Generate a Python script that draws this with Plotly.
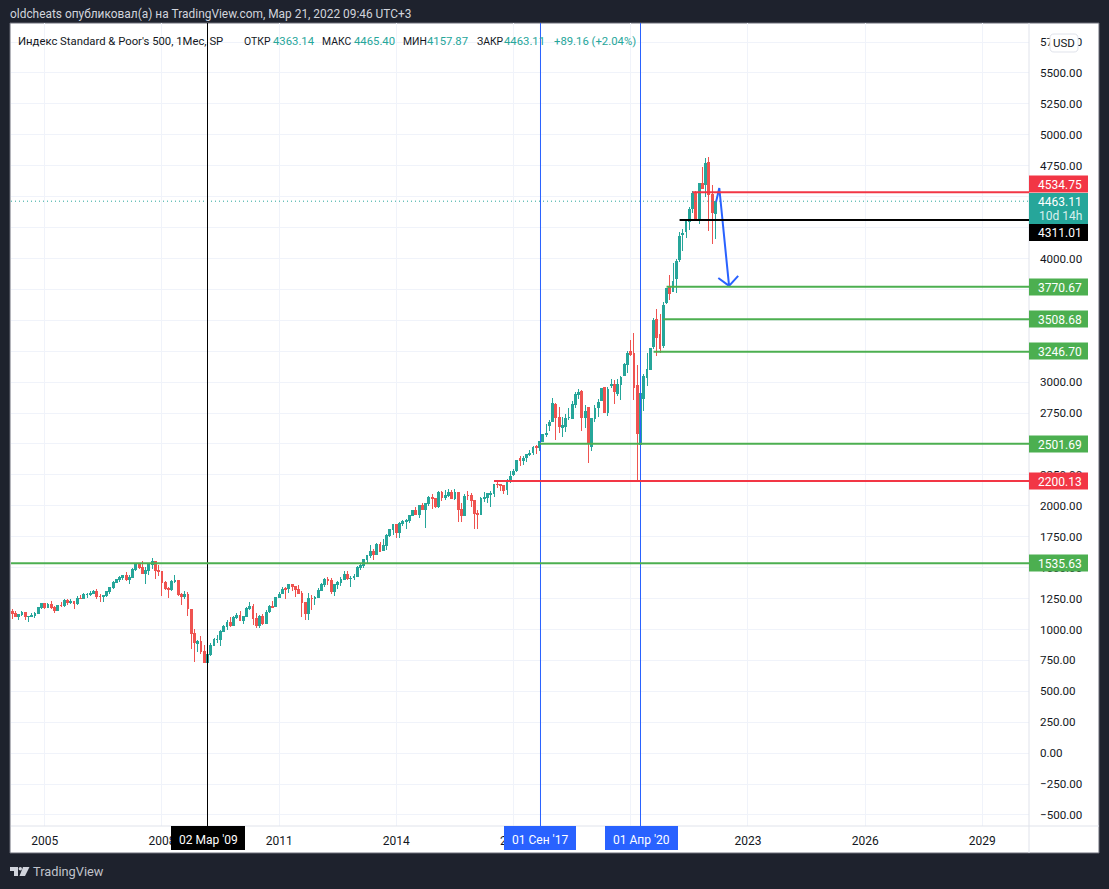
import plotly.graph_objects as go

# Monthly bars, March 2004 to March 2022
opens = [
 1145,1126,1107,1121,1141,1102,1104,1115,1130,1174,
 1212,1181,1204,1181,1157,1192,1191,1234,1220,1229,1207,1249,
 1248,1280,1281,1295,1311,1270,1270,1277,1304,1336,1378,1401,
 1418,1438,1407,1421,1482,1531,1503,1455,1474,1527,1549,1481,
 1468,1379,1331,1323,1386,1400,1280,1267,1283,1164,969,889,
 903,826,730,798,873,919,919,987,1021,1057,1036,1096,
 1117,1074,1106,1172,1188,1088,1031,1107,1049,1144,1185,1187,
 1258,1290,1328,1330,1365,1345,1322,1292,1220,1132,1247,1247,
 1258,1312,1366,1408,1398,1309,1362,1379,1407,1441,1414,1417,
 1426,1498,1515,1569,1598,1631,1609,1686,1635,1682,1758,1806,
 1848,1782,1859,1873,1885,1924,1961,1930,2004,1972,2019,2065,
 2059,1995,2105,2064,2087,2105,2060,2104,1970,1919,2081,2083,
 2039,1937,1932,2057,2068,2094,2100,2174,2170,2165,2129,2201,
 2251,2285,2381,2364,2388,2416,2431,2478,2474,2521,2580,2646,
 2683,2816,2715,2633,2643,2718,2704,2821,2897,2926,2717,2791,
 2476,2703,2798,2848,2953,2751,2971,2980,2909,2983,3050,3143,
 3244,3235,2974,2498,2869,3038,3105,3288,3507,3385,3296,3645,
 3764,3731,3842,3992,4191,4217,4300,4406,4529,4317,4610,4602,
 4778,4519,4363.14,
]
highs = [
 1163,1150,1127,1146,1141,1110,1132,1142,1182,1217,
 1218,1212,1229,1192,1199,1220,1246,1245,1243,1233,1271,1276,
 1295,1297,1310,1318,1326,1284,1281,1306,1340,1389,1407,1431,
 1441,1461,1438,1499,1535,1540,1556,1504,1538,1576,1545,1524,
 1471,1396,1344,1404,1440,1404,1293,1314,1304,1167,1007,918,
 944,875,832,888,930,956,997,1039,1080,1102,1113,1130,
 1150,1113,1181,1220,1205,1131,1120,1129,1158,1196,1227,1263,
 1303,1344,1345,1370,1371,1346,1357,1308,1220,1293,1278,1270,
 1333,1377,1420,1423,1416,1364,1392,1426,1475,1471,1434,1448,
 1510,1531,1570,1598,1687,1654,1698,1710,1730,1776,1814,1850,
 1851,1868,1884,1897,1925,1968,1991,2006,2019,2019,2076,2094,
 2064,2120,2118,2126,2135,2130,2133,2113,2021,2094,2117,2105,
 2038,1963,2073,2111,2103,2121,2177,2194,2179,2169,2215,2278,
 2301,2371,2401,2399,2418,2454,2484,2491,2520,2582,2658,2695,
 2872,2835,2801,2718,2742,2791,2848,2917,2941,2940,2816,2800,
 2708,2814,2861,2950,2955,2964,3028,3014,3022,3050,3154,3248,
 3338,3394,3137,2955,3068,3234,3280,3515,3588,3550,3646,3760,
 3870,3960,3995,4218,4239,4302,4415,4546,4546,4608,4743,4809,
 4819,4595,4465.40,
]
lows = [
 1087,1107,1076,1113,1079,1060,1099,1091,1127,1163,
 1164,1180,1163,1137,1146,1180,1183,1201,1205,1168,1202,1243,
 1245,1253,1268,1290,1245,1220,1224,1262,1290,1327,1375,1385,
 1403,1389,1364,1416,1476,1490,1448,1370,1439,1489,1406,1435,
 1270,1317,1256,1312,1373,1272,1200,1247,1106,840,741,815,
 805,734,666,783,866,888,869,978,993,1020,1029,1086,
 1071,1044,1101,1157,1040,1011,1010,1040,1041,1132,1173,1186,
 1262,1285,1249,1295,1312,1259,1283,1102,1075,1075,1158,1202,
 1259,1312,1341,1357,1291,1267,1325,1354,1397,1403,1343,1398,
 1426,1485,1501,1537,1582,1560,1605,1627,1633,1646,1746,1767,
 1738,1738,1834,1814,1862,1915,1930,1905,1965,1821,2001,1973,
 1981,1981,2040,2049,2068,2056,2044,1868,1872,1919,2047,1994,
 1812,1810,1932,2034,2026,1992,2075,2147,2120,2097,2084,2188,
 2245,2272,2322,2329,2353,2405,2408,2417,2447,2520,2558,2605,
 2682,2532,2586,2553,2594,2691,2699,2795,2864,2603,2631,2347,
 2444,2681,2722,2849,2750,2729,2952,2822,2892,2855,3050,3070,
 3214,2855,2191,2447,2767,2966,3116,3268,3210,3234,3280,3634,
 3663,3725,3724,3974,4057,4165,4234,4368,4306,4279,4560,4495,
 4223,4115,4157.87,
]
closes = [
 1126,1107,1121,1141,1102,1104,1115,1130,1174,1212,
 1181,1204,1181,1157,1192,1191,1234,1220,1229,1207,1249,1248,
 1280,1281,1295,1311,1270,1270,1277,1304,1336,1378,1401,1418,
 1438,1407,1421,1482,1531,1503,1455,1474,1527,1549,1481,1468,
 1379,1331,1323,1386,1400,1280,1267,1283,1166,969,896,903,
 826,735,798,873,919,919,987,1021,1057,1036,1096,1115,
 1074,1104,1169,1187,1089,1031,1102,1049,1141,1183,1181,1258,
 1286,1327,1326,1364,1345,1321,1292,1219,1131,1253,1247,1258,
 1312,1366,1408,1398,1310,1362,1379,1407,1441,1412,1416,1426,
 1498,1515,1569,1598,1631,1606,1686,1633,1682,1757,1806,1848,
 1783,1859,1872,1884,1924,1960,1931,2003,1972,2018,2068,2059,
 1995,2105,2068,2086,2107,2063,2104,1972,1920,2079,2080,2044,
 1940,1932,2060,2065,2097,2099,2174,2171,2168,2126,2199,2239,
 2279,2364,2363,2384,2412,2423,2470,2472,2519,2575,2585,2674,
 2824,2714,2641,2648,2705,2718,2816,2902,2914,2712,2760,2507,
 2704,2784,2834,2946,2751,2942,2980,2926,2977,3038,3141,3231,
 3226,2954,2585,2912,3044,3100,3271,3500,3363,3270,3622,3756,
 3714,3811,3973,4181,4204,4298,4395,4523,4308,4605,4567,4766,
 4516,4374,4463.11,
]

x_ticks = [10, 46, 82, 118, 154, 190, 226, 262, 298]
x_labels = ["2005", "2008", "2011", "2014", "2017", "2020", "2023", "2026", "2029"]
y_ticks = [-500, -250, 0, 250, 500, 750, 1000, 1250, 1500, 1750, 2000, 2250, 2500, 2750, 3000,
           3250, 3500, 3750, 4000, 4250, 4500, 4750, 5000, 5250, 5500, 5750]
y_labels = ["\u2212500.00", "\u2212250.00", "0.00", "250.00", "500.00", "750.00", "1000.00", "1250.00",
            "1500.00", "1750.00", "2000.00", "2250.00", "2500.00", "2750.00", "3000.00", "3250.00",
            "3500.00", "3750.00", "4000.00", "4250.00", "4500.00", "4750.00", "5000.00", "5250.00",
            "5500.00", "5750.00"]

level_values = [4534.75, 4311.01, 3770.67, 3508.68, 3246.70, 2501.69, 2200.13, 1535.63]
level_starts = [209, 205, 201, 200, 197, 162, 148, -1]
level_colors = ["#f23645", "#000000", "#4caf50", "#4caf50", "#4caf50", "#4caf50", "#f23645", "#4caf50"]

vline_positions = [60, 162.28, 193]
vline_colors = ["#000000", "#2962ff", "#2962ff"]
vline_labels = ["02 Мар '09", "01 Сен '17", "01 Апр '20"]

arrow_x = [216.2, 217.2, 220.2, 216.9, 220.2, 223.0]
arrow_y = [4457, 4570, 3778, 3842, 3778, 3859]

last_close = 4463.11

UP = "#26a69a"
DOWN = "#ef5350"
DARK = "#1e222d"
TXT = "#131722"
GRID = "#f0f3fa"
FONT = "Roboto"

PX_L, PX_R, PX_T, PX_B = 11, 1029, 23, 826
X_RANGE = [-0.358, 312.33]
Y_RANGE = [-589, 5904]


def xp(px):
    return (px - PX_L) / (PX_R - PX_L)


def yp(py):
    return (PX_B - py) / (PX_B - PX_T)


def rect(x0, y0, x1, y1, fill, line=None, layer="above"):
    return dict(type="rect", xref="paper", yref="paper", x0=xp(x0), x1=xp(x1), y0=yp(y0), y1=yp(y1),
                fillcolor=fill, line=dict(color=line or fill, width=1 if line else 0), layer=layer)


def poly(points, fill):
    path = "M " + " L ".join(f"{xp(a):.5f},{yp(b):.5f}" for a, b in points) + " Z"
    return dict(type="path", xref="paper", yref="paper", path=path, fillcolor=fill, line=dict(width=0), layer="above")


def text(px, py, s, color=TXT, size=12, anchor="left"):
    return dict(xref="paper", yref="paper", x=xp(px), y=yp(py), text=s, showarrow=False, xanchor=anchor,
                yanchor="middle", align=anchor, font=dict(family=FONT, size=size, color=color), borderpad=0, borderwidth=0)


fig = go.Figure()
fig.add_trace(go.Candlestick(
    x=list(range(len(closes))), open=opens, high=highs, low=lows, close=closes,
    increasing=dict(line=dict(color=UP, width=1), fillcolor=UP),
    decreasing=dict(line=dict(color=DOWN, width=1), fillcolor=DOWN),
    whiskerwidth=0, hoverinfo="skip", showlegend=False,
))
fig.add_trace(go.Scatter(x=arrow_x, y=arrow_y, mode="lines", line=dict(color="#2962ff", width=2),
                         hoverinfo="skip", showlegend=False))

shapes = [rect(10, 23, 1099, 853, "#ffffff", "#6a6d78", layer="below")]

# right axis and bottom axis separators
shapes.append(dict(type="line", xref="paper", yref="paper", x0=1, x1=1, y0=yp(853), y1=1,
                   line=dict(color="#e0e3eb", width=1), layer="above"))
shapes.append(dict(type="line", xref="paper", yref="paper", x0=0, x1=xp(1099), y0=0, y1=0,
                   line=dict(color="#e0e3eb", width=1), layer="above"))

shapes.append(dict(type="line", xref="paper", yref="y", x0=0, x1=1, y0=last_close, y1=last_close,
                   line=dict(color=UP, width=1, dash="1px,3px"), layer="above"))
for pos, col in zip(vline_positions, vline_colors):
    shapes.append(dict(type="line", xref="x", yref="paper", x0=pos, x1=pos, y0=0, y1=1,
                       line=dict(color=col, width=1), layer="above"))
for val, start, col in zip(level_values, level_starts, level_colors):
    shapes.append(dict(type="line", xref="x", yref="y", x0=start, x1=X_RANGE[1], y0=val, y1=val,
                       line=dict(color=col, width=2), layer="above"))

annotations = []

# price labels on the right axis
label_y = [184, None, 287, 319, 351, 444, 481, 563]
for val, col, py in zip(level_values, level_colors, label_y):
    if py is None:
        continue
    shapes.append(rect(1029, py - 8.5, 1088, py + 8.5, col))
    annotations.append(text(1060, py + 0.7, f"{val:.2f}", "#ffffff", anchor="center"))
shapes.append(rect(1029, 193, 1088, 224, UP))
annotations.append(text(1060, 201.7, "4463.11", "#ffffff", anchor="center"))
annotations.append(text(1060, 215.7, "10d 14h", "#d9f0ee", anchor="center"))
shapes.append(rect(1029, 224, 1088, 241, "#000000"))
annotations.append(text(1060, 232.7, "4311.01", "#ffffff", anchor="center"))

# date labels on the bottom axis
for (x0, x1), col, lab in zip([(171, 245), (504, 576), (605, 678)], vline_colors, vline_labels):
    shapes.append(rect(x0, 826, x1, 850, col))
    annotations.append(text((x0 + x1) / 2, 840, lab, "#ffffff", anchor="center"))

# USD button
bx0, bx1, by0, by1, r = 1050, 1078, 34, 52, 4
usd = (f"M {xp(bx0+r):.5f},{yp(by0):.5f} L {xp(bx1-r):.5f},{yp(by0):.5f} Q {xp(bx1):.5f},{yp(by0):.5f} {xp(bx1):.5f},{yp(by0+r):.5f} "
       f"L {xp(bx1):.5f},{yp(by1-r):.5f} Q {xp(bx1):.5f},{yp(by1):.5f} {xp(bx1-r):.5f},{yp(by1):.5f} "
       f"L {xp(bx0+r):.5f},{yp(by1):.5f} Q {xp(bx0):.5f},{yp(by1):.5f} {xp(bx0):.5f},{yp(by1-r):.5f} "
       f"L {xp(bx0):.5f},{yp(by0+r):.5f} Q {xp(bx0):.5f},{yp(by0):.5f} {xp(bx0+r):.5f},{yp(by0):.5f} Z")
shapes.append(dict(type="path", xref="paper", yref="paper", path=usd, fillcolor="#ffffff",
                   line=dict(color="#e0e3eb", width=1), layer="above"))
annotations.append(text(1064, 43, "USD", TXT, 11.5, anchor="center"))

# TradingView logo
shapes.append(poly([(10, 867), (18, 867), (18, 876), (14, 876), (14, 871), (10, 871)], "#d1d4dc"))
shapes.append(dict(type="circle", xref="paper", yref="paper", x0=xp(18.6), x1=xp(22), y0=yp(867), y1=yp(870.4),
                   fillcolor="#d1d4dc", line=dict(width=0), layer="above"))
shapes.append(poly([(23, 867), (29.5, 867), (25, 876), (19.5, 876)], "#d1d4dc"))
annotations.append(text(33, 871.5, "TradingView", "#c0c3cc", 12.8))

# header and legend
annotations.append(text(10, 14.5, "oldcheats опубликовал(а) на TradingView.com, Мар 21, 2022 09:46 UTC+3", "#d1d4dc", 11.9))
annotations.append(text(18, 42, "Индекс Standard &amp; Poor's 500, 1Мес, SP", TXT, 11.3))
for px, s in [(244, "ОТКР"), (322, "МАКС"), (403, "МИН"), (477, "ЗАКР")]:
    annotations.append(text(px, 42, s, TXT, 10.4))
for px, s in [(273, "4363.14"), (353.5, "4465.40"), (427, "4157.87"), (504, "4463.11"), (554, "+89.16 (+2.04%)")]:
    annotations.append(text(px, 42, s, UP, 11.3))

fig.update_layout(
    width=1109, height=889, autosize=False,
    margin=dict(l=PX_L, r=1109 - PX_R, t=PX_T, b=889 - PX_B, pad=0),
    paper_bgcolor=DARK, plot_bgcolor="#ffffff",
    showlegend=False, boxgap=0.2, hovermode=False,
    shapes=shapes, annotations=annotations,
    font=dict(family=FONT, size=12, color=TXT),
    xaxis=dict(range=X_RANGE, tickmode="array", tickvals=x_ticks, ticktext=x_labels,
               showgrid=True, gridcolor=GRID, gridwidth=1, zeroline=False, showline=False, ticks="",
               rangeslider=dict(visible=False), tickfont=dict(family=FONT, size=12, color=TXT), ticklabelstandoff=6),
    yaxis=dict(range=Y_RANGE, side="right", tickmode="array", tickvals=y_ticks, ticktext=y_labels,
               showgrid=True, gridcolor=GRID, gridwidth=1, zeroline=False, showline=False, ticks="",
               tickfont=dict(family=FONT, size=11.6, color=TXT), ticklabelstandoff=10),
)

post = """
document.body.style.margin='0';
document.body.style.overflow='hidden';
document.body.style.background='#1e222d';
document.querySelectorAll('g.trace.boxes path').forEach(function(p){p.style.shapeRendering='crispEdges';});
document.querySelectorAll('.shapelayer path').forEach(function(p){if(p.style.fill==='none'){p.style.shapeRendering='crispEdges';}});
"""
fig.write_html("out.html", config=dict(displayModeBar=False), post_script=post)
